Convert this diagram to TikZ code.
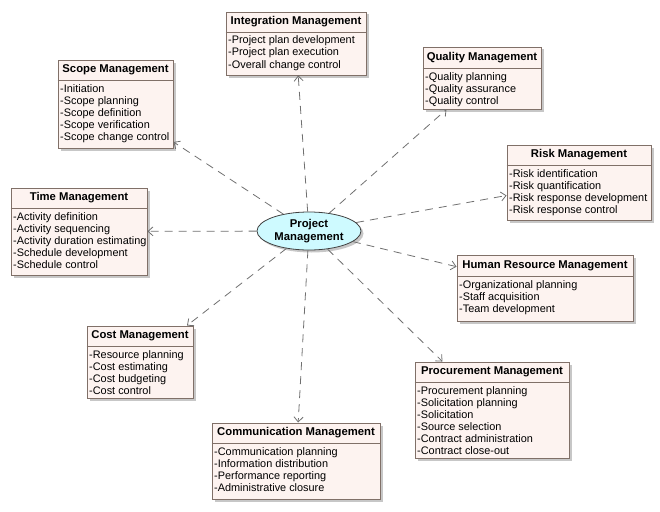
\documentclass[tikz,border=0pt]{standalone}
\usepackage{fontspec}
\setmainfont{Liberation Sans}
\usetikzlibrary{shapes.geometric,shadows,arrows.meta}
\definecolor{boxborder}{RGB}{128,112,104}
\definecolor{boxfill}{RGB}{253,243,240}
\definecolor{ellfill}{RGB}{206,250,255}
\definecolor{arrowgray}{RGB}{112,112,112}
\tikzset{
  umlbox/.style={draw=boxborder, line width=0.9pt, fill=boxfill, inner sep=0pt,
    drop shadow={shadow xshift=2.5pt, shadow yshift=-2.5pt, fill=gray!55, opacity=0.8}},
  boxline/.style={draw=boxborder, line width=0.9pt},
  hdr/.style={font=\fontsize{11.3}{13}\selectfont\bfseries, inner sep=0pt},
  bodytxt/.style={font=\fontsize{10.9}{12}\selectfont, inner sep=0pt, anchor=base west},
  pmnode/.style={ellipse, draw=black!75, line width=0.8pt, fill=ellfill,
    minimum width=104pt, minimum height=38pt, inner sep=0pt, align=center,
    font=\fontsize{11.3}{13}\selectfont\bfseries,
    drop shadow={shadow xshift=2.5pt, shadow yshift=-2.5pt, fill=gray!55, opacity=0.8}},
  dep/.style={draw=arrowgray, line width=0.8pt, dash pattern=on 8pt off 6pt,
    -{Straight Barb[length=5pt,width=9pt]}}
}
\newcommand\umlbox[8]{%
  \node[umlbox, minimum width={(#4)-(#2)}, minimum height={(#5)-(#3)}]
    (#1) at ({((#2)+(#4))/2},{((#3)+(#5))/2}) {};
  \draw[boxline] (#1.west |- 0,#6) -- (#1.east |- 0,#6);
  \node[hdr] (#1-h) at ({((#2)+(#4))/2},{((#3)+(#6))/2}) {#7};
  \foreach \t [count=\i] in {#8} {
    \node[bodytxt] (#1-\i) at ({(#2)+2},{(#6)+12*\i}) {\t};
  }%
}
\begin{document}
\begin{tikzpicture}[x=1pt,y=-1pt]
\useasboundingbox (0,0) rectangle (660,511);

\node[pmnode] (pm) at (309,231) {Project\\Management};

\umlbox{int}{226}{12}{366}{75}{32}{Integration Management}
  {-Project plan development,-Project plan execution,-Overall change control}
\umlbox{scope}{58}{60}{173}{148}{80}{Scope Management}
  {-Initiation,-Scope planning,-Scope definition,-Scope verification,-Scope change control}
\umlbox{qual}{423}{47}{541}{109}{68}{Quality Management}
  {-Quality planning,-Quality assurance,-Quality control}
\umlbox{risk}{507}{145}{651}{220}{165}{Risk Management}
  {-Risk identification,-Risk quantification,-Risk response development,-Risk response control}
\umlbox{time}{11}{188}{147}{275}{208}{Time Management}
  {-Activity definition,-Activity sequencing,-Activity duration estimating,-Schedule development,-Schedule control}
\umlbox{hr}{457}{255}{633}{321}{276}{Human Resource Management}
  {-Organizational planning,-Staff acquisition,-Team development}
\umlbox{cost}{87}{326}{193}{398}{346}{Cost Management}
  {-Resource planning,-Cost estimating,-Cost budgeting,-Cost control}
\umlbox{proc}{415}{362}{569}{458}{382}{Procurement Management}
  {-Procurement planning,-Solicitation planning,-Solicitation,-Source selection,-Contract administration,-Contract close-out}
\umlbox{comm}{212}{423}{380}{499}{443}{Communication Management}
  {-Communication planning,-Information distribution,-Performance reporting,-Administrative closure}

\foreach \b in {int,scope,qual,risk,time,hr,cost,proc,comm}
  \draw[dep] (pm) -- (\b);
\end{tikzpicture}
\end{document}
